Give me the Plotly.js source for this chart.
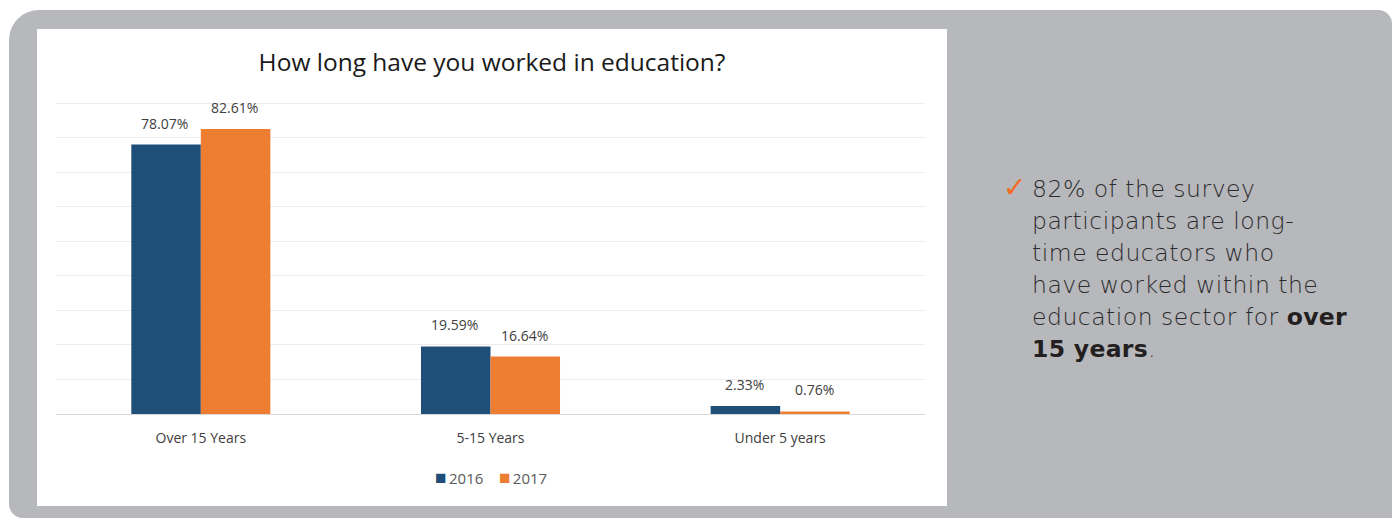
<!DOCTYPE html>
<html>
<head>
<meta charset="utf-8">
<script src="https://cdn.plot.ly/plotly-3.0.1.min.js"></script>
<style>
  html, body { margin:0; padding:0; background:#ffffff; width:1392px; height:519px; overflow:hidden; }
  #bg { position:absolute; left:9px; top:10px; width:1383px; height:508px; background:#b7b8bb; border-radius:30px 14px 0 14px; }
  #panel { position:absolute; left:37px; top:29px; width:910px; height:477px; background:#ffffff; }
  #chart { position:absolute; left:0; top:0; width:910px; height:477px; }
  #note { position:absolute; left:1032px; top:173px; white-space:nowrap; font-family:"DejaVu Sans","Noto Sans",sans-serif; font-weight:200; font-size:23.5px; line-height:32px; color:#2b2a2c; letter-spacing:0.5px; }
  #note b { font-weight:700; color:#231f20; letter-spacing:0.3px; }
  #check { position:absolute; left:1003px; top:172px; font-family:"DejaVu Sans",sans-serif; font-size:28px; line-height:32px; color:#f26b21; }
</style>
</head>
<body>
<div id="bg"></div>
<div id="panel"><div id="chart"></div></div>
<div id="check">✓</div>
<div id="note">82% of the survey<br>participants are long-<br>time educators who<br>have worked within the<br>education sector for <b>over</b><br><b>15 years</b>.</div>
<script>
const categories = ["Over 15 Years", "5-15 Years", "Under 5 years"];
const seriesNames = ["2016", "2017"];
const values2016 = [78.07, 19.59, 2.33];
const values2017 = [82.61, 16.64, 0.76];
const colors = ["#1f4e79", "#ed7d31"];

const font = "'Open Sans', sans-serif";
const series = [values2016, values2017];
const traces = series.map((vals, i) => ({
  type: "bar",
  name: seriesNames[i],
  x: categories,
  y: vals,
  marker: { color: colors[i] },
  hoverinfo: "skip"
}));

const annotations = [];
series.forEach((vals, i) => {
  vals.forEach((v, j) => {
    annotations.push({
      x: categories[j], y: v, xref: "x", yref: "y",
      text: v.toFixed(2) + "%", showarrow: false,
      xanchor: "center", yanchor: "bottom",
      xshift: i === 0 ? -36 : 34, yshift: 10,
      font: { family: font, size: 14, color: "#404040" }
    });
  });
});
// legend as text
annotations.push({
  xref: "paper", yref: "paper", x: 0.5, y: -0.2, xanchor: "center", yanchor: "middle",
  showarrow: false,
  text: seriesNames.map((n, i) => "<span style='color:" + colors[i] + ";font-size:19px'>■</span>\u2009" + n).join("\u00a0\u00a0\u00a0\u00a0"),
  font: { family: font, size: 15, color: "#595959" }
});

const layout = {
  width: 910, height: 477,
  margin: { l: 19, r: 22, t: 71, b: 92 },
  paper_bgcolor: "#ffffff",
  plot_bgcolor: "#ffffff",
  barmode: "group",
  bargap: 0.52,
  bargroupgap: 0,
  showlegend: false,
  title: { text: "How long have you worked in education?", font: { family: font, size: 24.5, color: "#1a1a1a" }, x: 0.5, xanchor: "center", y: 1 - 33/477, yanchor: "middle" },
  xaxis: {
    type: "category",
    range: [-0.5, 2.5],
    tickfont: { family: font, size: 14, color: "#404040" },
    ticks: "", ticklabelstandoff: 11,
    showline: true, linecolor: "#d9d9d9", linewidth: 1,
    showgrid: false, fixedrange: true
  },
  yaxis: {
    range: [0, 91], dtick: 10,
    showticklabels: false, showgrid: true, gridcolor: "#ececec", gridwidth: 1,
    zeroline: false, showline: false, fixedrange: true
  },
  annotations: annotations
};

Plotly.newPlot("chart", traces, layout, { staticPlot: true, displayModeBar: false });
</script>
</body>
</html>
